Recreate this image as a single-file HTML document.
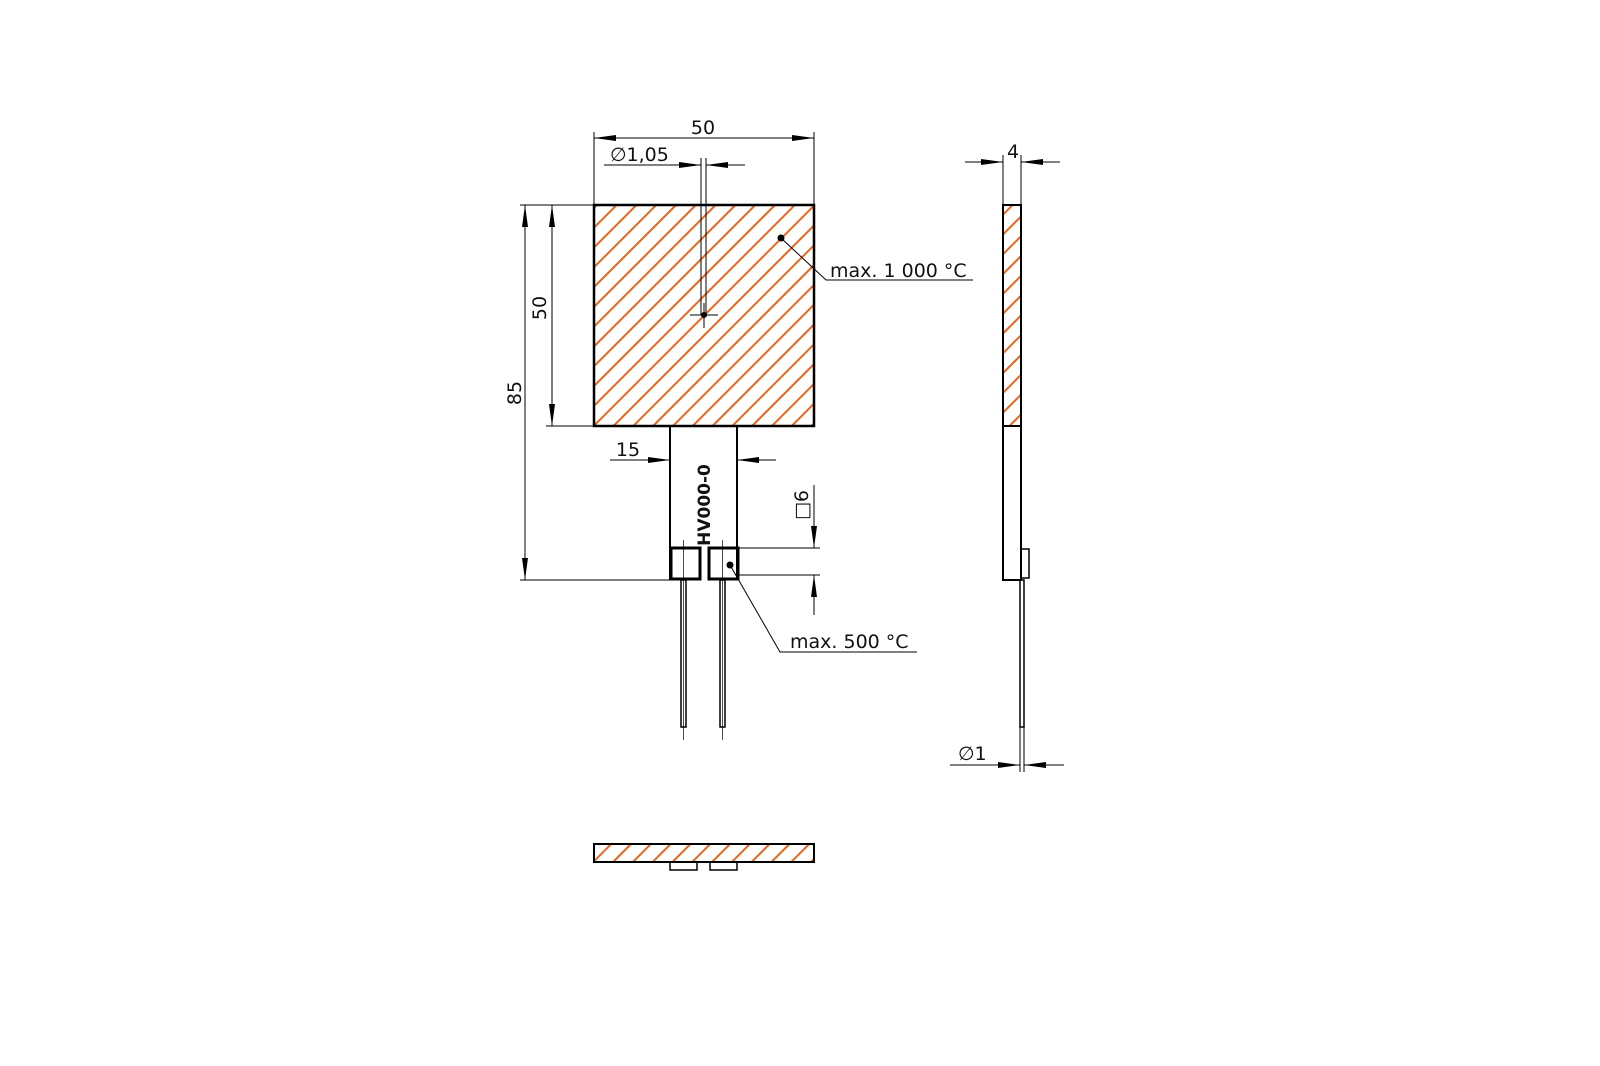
<!DOCTYPE html>
<html><head><meta charset="utf-8"><style>
html,body{margin:0;padding:0;background:#fff}
svg{display:block}
text{font-family:"DejaVu Sans","Liberation Sans",sans-serif;fill:#111}
</style></head><body>
<svg width="1600" height="1066" viewBox="0 0 1600 1066" xmlns="http://www.w3.org/2000/svg">
<defs>
<pattern id="h" patternUnits="userSpaceOnUse" width="14" height="14" patternTransform="rotate(45)">
<line x1="7" y1="0" x2="7" y2="14" stroke="#e8661f" stroke-width="2"/>
</pattern>
<marker id="a" viewBox="0 0 22 6" refX="22" refY="3" markerWidth="22" markerHeight="6" markerUnits="userSpaceOnUse" orient="auto-start-reverse">
<path d="M0,0 L22,3 L0,6 Z" fill="#000"/>
</marker>
</defs>
<g stroke="#000" fill="none">
<rect x="594" y="205" width="220" height="221" fill="url(#h)" stroke-width="2.5"/>
<path d="M670,426 V580 M737,426 V580" stroke-width="2"/>
<rect x="671" y="548" width="29" height="31" stroke-width="3"/>
<rect x="709" y="548" width="29" height="31" stroke-width="3"/>
<rect x="681" y="580" width="5" height="147" stroke-width="1.5"/>
<rect x="720" y="580" width="5" height="147" stroke-width="1.5"/>
<path d="M683.5,540 V740 M722.5,540 V740" stroke-width="0.7"/>
<path d="M701,158 V315 M706,158 V315 M690,315 H718 M704,303 V328" stroke-width="1"/>
<circle cx="704" cy="315" r="2.5" fill="#000"/>
<g stroke-width="1">
<path d="M594,132 V205 M814,132 V205"/>
<line x1="594" y1="138" x2="814" y2="138" marker-start="url(#a)" marker-end="url(#a)"/>
<line x1="604" y1="165" x2="701" y2="165" marker-end="url(#a)"/>
<line x1="745" y1="165" x2="706" y2="165" marker-end="url(#a)"/>
<path d="M520,205 H594 M546,426 H594 M520,580 H670"/>
<line x1="525" y1="205" x2="525" y2="580" marker-start="url(#a)" marker-end="url(#a)"/>
<line x1="552" y1="205" x2="552" y2="426" marker-start="url(#a)" marker-end="url(#a)"/>
<line x1="610" y1="460" x2="670" y2="460" marker-end="url(#a)"/>
<line x1="776" y1="460" x2="737" y2="460" marker-end="url(#a)"/>
<path d="M738,548 H820 M738,575 H820"/>
<line x1="814" y1="485" x2="814" y2="548" marker-end="url(#a)"/>
<line x1="814" y1="615" x2="814" y2="575" marker-end="url(#a)"/>
<path d="M781,238 L826,280 H973"/>
<path d="M730,565 L780,652 H917"/>
<path d="M1003,155 V205 M1021,155 V205"/>
<line x1="965" y1="162" x2="1003" y2="162" marker-end="url(#a)"/>
<line x1="1060" y1="162" x2="1021" y2="162" marker-end="url(#a)"/>
<path d="M1020,727 V772 M1024,727 V772"/>
<line x1="950" y1="765" x2="1020" y2="765" marker-end="url(#a)"/>
<line x1="1064" y1="765" x2="1024" y2="765" marker-end="url(#a)"/>
</g>
<circle cx="781" cy="238" r="3" fill="#000"/>
<circle cx="730" cy="565" r="3" fill="#000"/>
<rect x="1003" y="205" width="18" height="221" fill="url(#h)" stroke-width="2"/>
<rect x="1003" y="426" width="18" height="154" stroke-width="2"/>
<rect x="1021" y="549" width="8" height="29" stroke-width="1.5"/>
<rect x="1020" y="580" width="4" height="147" stroke-width="1.5"/>
<rect x="594" y="844" width="220" height="18" fill="url(#h)" stroke-width="2"/>
<rect x="670" y="862" width="27" height="8" stroke-width="1.5"/>
<rect x="710" y="862" width="27" height="8" stroke-width="1.5"/>
</g>
<g font-size="19">
<text x="703" y="134" text-anchor="middle">50</text>
<text x="610" y="161">∅1,05</text>
<text x="628" y="456" text-anchor="middle">15</text>
<text x="830" y="277">max. 1 000 °C</text>
<text x="790" y="648">max. 500 °C</text>
<text x="1013" y="158" text-anchor="middle">4</text>
<text x="958" y="760">∅1</text>
<text transform="translate(546,308) rotate(-90)" text-anchor="middle">50</text>
<text transform="translate(521,393) rotate(-90)" text-anchor="middle">85</text>
<text transform="translate(808,505) rotate(-90)" text-anchor="middle">□6</text>
<text transform="translate(710,505) rotate(-90)" text-anchor="middle" font-weight="bold" font-size="17">HV000-0</text>
</g>
</svg>
</body></html>
